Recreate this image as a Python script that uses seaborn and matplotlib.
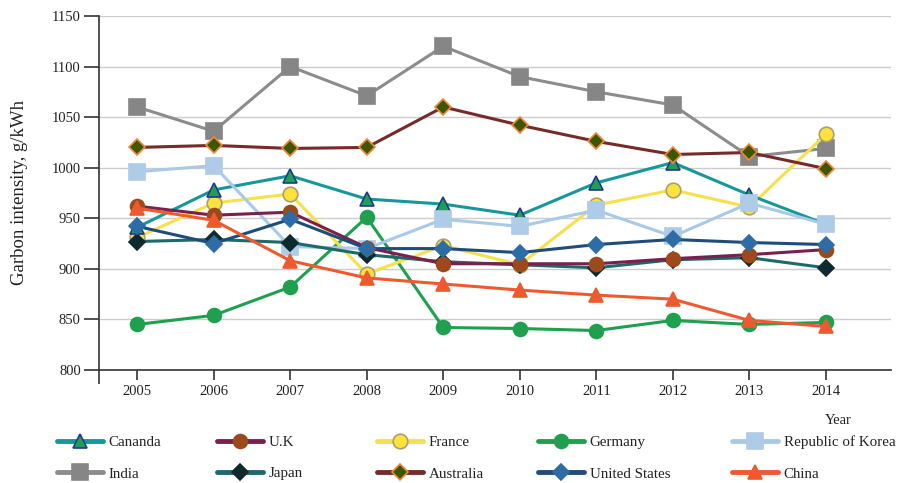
import numpy as np
import pandas as pd
import matplotlib
matplotlib.use('Agg')
import matplotlib.pyplot as plt
import seaborn as sns
from matplotlib.lines import Line2D

years = [2005, 2006, 2007, 2008, 2009, 2010, 2011, 2012, 2013, 2014]

canada = [941, 978, 992, 969, 964, 953, 985, 1005, 973, 944]
uk = [962, 953, 956, 921, 905, 905, 905, 910, 914, 919]
france = [931, 965, 974, 895, 923, 904, 963, 978, 961, 1033]
germany = [845, 854, 882, 951, 842, 841, 839, 849, 845, 847]
korea = [996, 1002, 922, 920, 949, 942, 958, 932, 965, 944]
india = [1060, 1036, 1100, 1071, 1120, 1090, 1075, 1062, 1011, 1019]
japan = [927, 929, 926, 914, 907, 904, 901, 909, 911, 901]
australia = [1020, 1022, 1019, 1020, 1060, 1042, 1026, 1013, 1015, 999]
usa = [942, 925, 949, 920, 920, 916, 924, 929, 926, 924]
china = [960, 948, 908, 891, 885, 879, 874, 870, 849, 843]

series = {
    'Cananda': canada, 'U.K': uk, 'France': france, 'Germany': germany,
    'Republic of Korea': korea, 'India': india, 'Japan': japan,
    'Australia': australia, 'United States': usa, 'China': china,
}

# line colour, marker, marker face, marker edge, marker size
styles = {
    'Cananda': ('#16979a', '^', '#1f9f55', '#1f3a8c', 10),
    'U.K': ('#7b1f4c', 'o', '#9c4a1c', '#9c4a1c', 10),
    'France': ('#f7e04a', 'o', '#fde23e', '#a8a070', 10.5),
    'Germany': ('#1fa04f', 'o', '#1fa04f', '#1fa04f', 10),
    'Republic of Korea': ('#a9c9e8', 's', '#aecbe8', '#aecbe8', 11),
    'India': ('#8c8c8c', 's', '#868686', '#868686', 11),
    'Japan': ('#1b6a6c', 'D', '#0d2a2e', '#0d2a2e', 8.5),
    'Australia': ('#772a2a', 'D', '#3d5600', '#f0883a', 8.5),
    'United States': ('#1f4d7a', 'D', '#2e6ca6', '#2e6ca6', 8.5),
    'China': ('#ee5a30', '^', '#ee5a30', '#ee5a30', 9.5),
}

draw_order = ['India', 'Germany', 'France', 'Cananda', 'Republic of Korea',
              'Australia', 'Japan', 'U.K', 'United States', 'China']

df = pd.DataFrame({'year': years, **series}).melt(id_vars='year', var_name='country', value_name='value')

sns.set_style('white')
plt.rcParams['font.family'] = ['Liberation Serif', 'DejaVu Serif']

fig = plt.figure(figsize=(8.99, 4.83), dpi=100)
ax = fig.add_axes([0.110, 0.234, 0.881, 0.733])

for name in draw_order:
    lc, mk, mf, me, ms = styles[name]
    sub = df[df['country'] == name]
    sns.lineplot(data=sub, x='year', y='value', ax=ax, color=lc, linewidth=2.2,
                 marker=mk, markersize=ms, markerfacecolor=mf, markeredgecolor=me,
                 markeredgewidth=1.2, legend=False)

ax.set_xlim(2004.5, 2014.85)
ax.set_ylim(800, 1150)
ax.set_yticks(np.arange(800, 1151, 50))
ax.set_xticks(years)
ax.set_xticks([2004.5], minor=True)
ax.yaxis.grid(True, color='#cccccc', linewidth=1)
ax.set_axisbelow(True)
for s in ['top', 'right']:
    ax.spines[s].set_visible(False)
for s in ['left', 'bottom']:
    ax.spines[s].set_color('#333333')
    ax.spines[s].set_linewidth(1.2)
ax.tick_params(axis='both', which='both', direction='out', width=1.2, bottom=True, left=True,
               color='#333333', labelsize=10.5, labelcolor='#222222')
ax.tick_params(axis='y', length=11, pad=2)
ax.tick_params(axis='x', which='major', length=7.5, pad=3)
ax.tick_params(axis='x', which='minor', length=10)
ax.set_xlabel('')
ax.set_ylabel('Garbon intensity, g/kWh', fontsize=13.5, color='#222222', labelpad=17)
fig.text(0.932, 0.122, 'Year', fontsize=10.5, color='#222222', ha='center')

legend_cols = [['Cananda', 'India'], ['U.K', 'Japan'], ['France', 'Australia'],
               ['Germany', 'United States'], ['Republic of Korea', 'China']]
legend_x = [57, 217, 377, 538, 732]
for names, px in zip(legend_cols, legend_x):
    handles = []
    for name in names:
        lc, mk, mf, me, ms = styles[name]
        handles.append(Line2D([0], [0], color=lc, linewidth=3.5, marker=mk, markersize=ms,
                              markerfacecolor=mf, markeredgecolor=me, markeredgewidth=1.2))
    fig.legend(handles, names, loc='center left', bbox_to_anchor=(px / 899, 1 - 458 / 483),
               frameon=False, fontsize=10.8, handlelength=3.05, handletextpad=0.4,
               labelspacing=1.2, borderpad=0, borderaxespad=0, labelcolor='#222222')

fig.savefig('out.png', dpi=100)
